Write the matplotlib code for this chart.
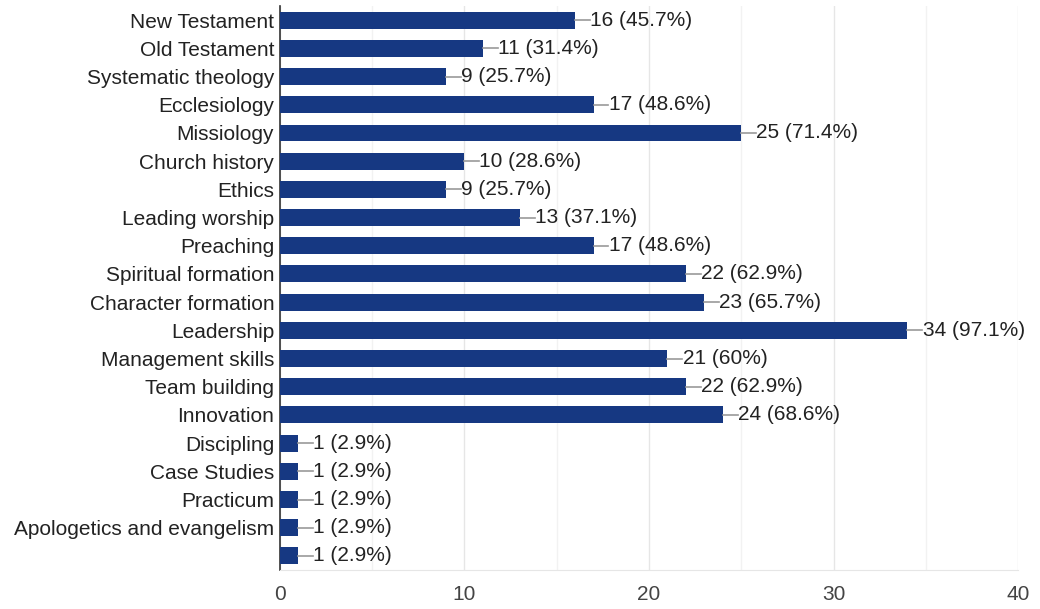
import matplotlib.pyplot as plt
import numpy as np

categories = ['New Testament', 'Old Testament', 'Systematic theology', 'Ecclesiology',
              'Missiology', 'Church history', 'Ethics', 'Leading worship', 'Preaching',
              'Spiritual formation', 'Character formation', 'Leadership',
              'Management skills', 'Team building', 'Innovation', 'Discipling',
              'Case Studies', 'Practicum', 'Apologetics and evangelism', '']
counts = [16, 11, 9, 17, 25, 10, 9, 13, 17, 22, 23, 34, 21, 22, 24, 1, 1, 1, 1, 1]
percents = ['45.7', '31.4', '25.7', '48.6', '71.4', '28.6', '25.7', '37.1', '48.6',
            '62.9', '65.7', '97.1', '60', '62.9', '68.6', '2.9', '2.9', '2.9', '2.9', '2.9']

plt.rcParams['font.family'] = ['Liberation Sans', 'DejaVu Sans']

fig = plt.figure(figsize=(10.4, 6.09), dpi=100)
ax = fig.add_axes([0.269, 0.064, 0.710, 0.926])

y = np.arange(len(categories))
ax.barh(y, counts, height=0.6, color='#163882', zorder=3)

for yi, c, p in zip(y, counts, percents):
    ax.plot([c, c + 0.8], [yi, yi], color='#999999', lw=1.2, zorder=3)
    ax.text(c + 0.82, yi, f'{c} ({p}%)', va='center', ha='left',
            fontsize=15, color='#222222', zorder=4)

ax.set_xlim(0, 40)
ax.set_ylim(len(categories) - 0.5, -0.5)
ax.set_yticks(y)
ax.set_yticklabels(categories, fontsize=15, color='#222222')
ax.set_xticks([0, 10, 20, 30, 40])
ax.set_xticks([5, 15, 25, 35], minor=True)
ax.tick_params(axis='x', labelsize=15, labelcolor='#444444', length=0, pad=11)
ax.tick_params(axis='x', which='minor', length=0)
ax.tick_params(axis='y', length=0, pad=4)
ax.grid(axis='x', which='major', color='#e6e6e6', lw=1, zorder=0)
ax.grid(axis='x', which='minor', color='#f2f2f2', lw=1, zorder=0)
for s in ['top', 'right']:
    ax.spines[s].set_visible(False)
ax.spines['bottom'].set_color('#e6e6e6')
ax.spines['left'].set_color('#333333')
ax.spines['left'].set_linewidth(1.2)

fig.savefig('out.png', dpi=100)
